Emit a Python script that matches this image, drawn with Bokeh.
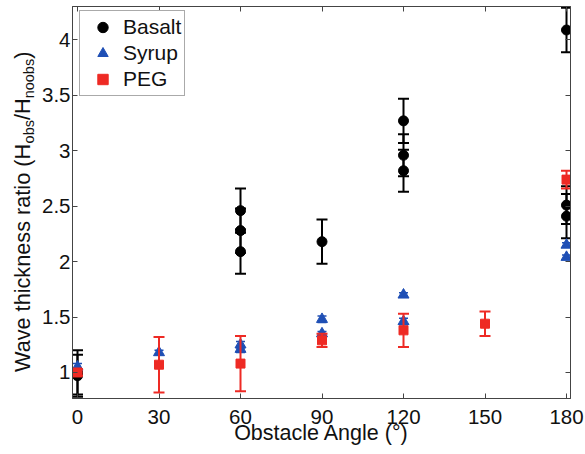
import math
from bokeh.plotting import figure
from bokeh.layouts import row
from bokeh.models import (Range1d, LinearAxis, FixedTicker, CustomJSTickFormatter,
                          Legend, LegendItem, ColumnDataSource)
from bokeh.core.properties import value
from bokeh.embed import file_html
from bokeh.resources import INLINE

# ---------------- data ----------------
angle_ticks = [0, 30, 60, 90, 120, 150, 180]
ratio_ticks = [1, 1.5, 2, 2.5, 3, 3.5, 4]

basalt_angle = [0, 0, 60, 60, 60, 90, 120, 120, 120, 180, 180, 180]
basalt_ratio = [0.97, 1.00, 2.46, 2.28, 2.09, 2.18, 3.27, 2.96, 2.82, 4.09, 2.51, 2.41]
basalt_err = [0.19, 0.20, 0.20, 0.20, 0.20, 0.20, 0.20, 0.19, 0.19, 0.20, 0.17, 0.20]

syrup_angle = [0, 30, 60, 60, 90, 90, 120, 120, 180, 180]
syrup_ratio = [1.05, 1.18, 1.25, 1.21, 1.48, 1.35, 1.70, 1.46, 2.15, 2.04]
syrup_err = [0.03, 0.02, 0.03, 0.03, 0.03, 0.02, 0.02, 0.03, 0.02, 0.02]

peg_angle = [0, 30, 60, 90, 120, 150, 180]
peg_ratio = [1.00, 1.07, 1.08, 1.29, 1.38, 1.44, 2.74]
peg_err = [0.03, 0.25, 0.25, 0.06, 0.15, 0.11, 0.08]

series_names = ["Basalt", "Syrup", "PEG"]
x_title = "Obstacle Angle (°)"
y_title_parts = ["Wave thickness ratio (H", "obs", "/H", "noobs", ")"]
y_title_is_sub = [False, True, False, True, False]

# ---------------- style ----------------
FONT = "Liberation Sans"
BLACK = "#000000"
BLUE = "#1f4fb5"
RED = "#ee2a24"
AXIS_COLOR = "#444444"
TEXT_COLOR = "#111111"

TOTAL_W, H = 585, 454
LW = 38                       # width of the strip that carries the y title
W = TOTAL_W - LW
FRAME_TOP, FRAME_BOTTOM = 6, 398

p = figure(width=W, height=H, output_backend="svg", toolbar_location=None,
           x_range=Range1d(-1.84, 181.47), y_range=Range1d(0.765, 4.302),
           x_axis_type=None, y_axis_type=None,
           min_border_left=72 - LW, min_border_right=15, min_border_top=FRAME_TOP,
           min_border_bottom=H - FRAME_BOTTOM)
p.outline_line_color = AXIS_COLOR
p.outline_line_width = 1
p.background_fill_color = "white"
p.border_fill_color = "white"


def style_axis(ax, show_labels):
    ax.major_tick_in = 5
    ax.major_tick_out = 0
    ax.minor_tick_line_color = None
    ax.axis_line_color = AXIS_COLOR
    ax.major_tick_line_color = AXIS_COLOR
    ax.major_label_text_font = FONT
    ax.major_label_text_color = TEXT_COLOR
    if show_labels:
        ax.major_label_text_font_size = "20.5px"
    else:
        ax.major_label_text_font_size = "0px"
        ax.major_label_standoff = 0


xb = LinearAxis(ticker=FixedTicker(ticks=angle_ticks), axis_label=x_title)
style_axis(xb, True)
xb.major_label_standoff = 11
xb.axis_label_text_font = FONT
xb.axis_label_text_font_size = "21.5px"
xb.axis_label_text_font_style = "normal"
xb.axis_label_text_color = TEXT_COLOR
xb.axis_label_standoff = -6
p.add_layout(xb, "below")

yl = LinearAxis(ticker=FixedTicker(ticks=ratio_ticks),
                formatter=CustomJSTickFormatter(code="return String(tick)"))
style_axis(yl, True)
yl.major_label_standoff = 2
p.add_layout(yl, "left")

xt = LinearAxis(ticker=FixedTicker(ticks=angle_ticks),
                formatter=CustomJSTickFormatter(code="return ''"))
style_axis(xt, False)
p.add_layout(xt, "above")

yr = LinearAxis(ticker=FixedTicker(ticks=ratio_ticks),
                formatter=CustomJSTickFormatter(code="return ''"))
style_axis(yr, False)
p.add_layout(yr, "right")


def draw_series(xs, ys, es, color, marker, size, lw, cap):
    src = ColumnDataSource(dict(x=xs, y=ys,
                                lo=[a - b for a, b in zip(ys, es)],
                                hi=[a + b for a, b in zip(ys, es)]))
    p.segment(x0="x", y0="lo", x1="x", y1="hi", source=src, line_color=color, line_width=lw)
    p.scatter(x="x", y="hi", source=src, marker="dash", size=cap, line_color=color, line_width=lw)
    p.scatter(x="x", y="lo", source=src, marker="dash", size=cap, line_color=color, line_width=lw)
    return p.scatter(x="x", y="y", source=src, marker=marker, size=size,
                     fill_color=color, line_color=color, line_width=1)


r_basalt = draw_series(basalt_angle, basalt_ratio, basalt_err, BLACK, "circle", 10, 2, 11)
r_syrup = draw_series(syrup_angle, syrup_ratio, syrup_err, BLUE, "triangle", 11, 1.5, 9)
r_peg = draw_series(peg_angle, peg_ratio, peg_err, RED, "square", 9, 2, 11)

legend = Legend(items=[LegendItem(label=series_names[0], renderers=[r_basalt]),
                       LegendItem(label=series_names[1], renderers=[r_syrup]),
                       LegendItem(label=series_names[2], renderers=[r_peg])],
                location=(7, 302), margin=0, padding=3, spacing=0,
                glyph_width=39, glyph_height=26, label_height=26, label_standoff=1,
                label_text_font=FONT, label_text_font_size="21px",
                label_text_color=TEXT_COLOR,
                border_line_color="#555555", border_line_width=1,
                background_fill_color="white", background_fill_alpha=1)
p.add_layout(legend, "center")

# ---------------- y axis title strip (text with subscripts) ----------------
ARIAL = {'W': 944, 'a': 556, 'v': 500, 'e': 556, ' ': 278, 't': 278, 'h': 556, 'i': 222,
         'c': 500, 'k': 500, 'n': 556, 's': 500, 'r': 333, 'o': 556, '(': 333, ')': 333,
         'H': 722, '/': 278, 'b': 556}


def text_width(s, size):
    return sum(ARIAL.get(ch, 556) for ch in s) / 1000.0 * size


MAIN, SUB = 21.7, 14.5
BASELINE_X = 30.0      # page x of the main-text baseline
SUB_DROP = 4.0         # subscripts sit this much below (to the right of) the baseline
MID = 0.3465           # middle of the text box above the baseline, in em
start = 372.0          # page y where the title begins (it reads upward)

tx, ty, tt, ts = [], [], [], []
pos = start
for part, sub in zip(y_title_parts, y_title_is_sub):
    size = SUB if sub else MAIN
    w = text_width(part, size)
    base = BASELINE_X + (SUB_DROP if sub else 0.0)
    tx.append(base - MID * size)
    ty.append(H - (pos - w / 2.0))
    tt.append(part)
    ts.append(f"{size}px")
    pos -= w

# the row aligns this strip's frame with the main frame, so its y range covers
# exactly the page rows of that frame (data y = H - page y)
q = figure(width=LW, height=H, output_backend="svg", toolbar_location=None,
           x_range=Range1d(0, LW), y_range=Range1d(H - FRAME_BOTTOM, H - FRAME_TOP),
           x_axis_type=None, y_axis_type=None,
           min_border_left=0, min_border_right=0, min_border_top=FRAME_TOP,
           min_border_bottom=H - FRAME_BOTTOM)
q.outline_line_color = None
q.background_fill_color = "white"
q.border_fill_color = "white"
q.text(x="x", y="y", text="t", source=ColumnDataSource(dict(x=tx, y=ty, t=tt, s=ts)),
       angle=math.pi / 2, text_align="center", text_baseline="middle",
       text_font=value(FONT), text_font_size="s", text_color=TEXT_COLOR)

layout = row(q, p, spacing=0)
open("out.html", "w").write(file_html(layout, INLINE))
